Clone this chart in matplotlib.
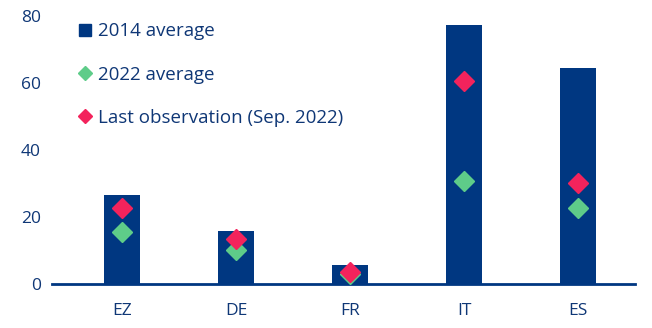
import numpy as np
import matplotlib
matplotlib.use("Agg")
import matplotlib.pyplot as plt
from matplotlib.lines import Line2D

# data
countries = ["EZ", "DE", "FR", "IT", "ES"]
avg_2014 = [26.5, 15.7, 5.8, 77.3, 64.5]
avg_2022 = [15.4, 10.3, 3.0, 30.7, 22.7]
last_obs = [22.8, 13.3, 3.7, 60.6, 30.1]
yticks = [0, 20, 40, 60, 80]

navy = "#003781"
green = "#5ecc89"
red = "#f3235c"
txt = "#0f3776"

plt.rcParams["font.family"] = ["Open Sans", "DejaVu Sans"]

fig = plt.figure(figsize=(6.52, 3.28), dpi=100)
ax = fig.add_axes([0.08, 0.134, 0.894, 0.817])

x = np.arange(len(countries))
ax.bar(x, avg_2014, width=0.32, color=navy, zorder=2)
ax.plot(x, avg_2022, "D", color=green, ms=10, ls="none", zorder=3)
ax.plot(x, last_obs, "D", color=red, ms=10, ls="none", zorder=4)

ax.set_xlim(-0.614, 4.5)
ax.set_ylim(0, 80)
ax.set_yticks(yticks)
ax.set_xticks(x)
ax.set_xticklabels(countries)
ax.tick_params(axis="both", length=0, labelsize=12.5, colors=txt)
ax.tick_params(axis="x", pad=14)
ax.tick_params(axis="y", pad=8)

for s in ["top", "right", "left"]:
    ax.spines[s].set_visible(False)
ax.spines["bottom"].set_color(navy)
ax.spines["bottom"].set_linewidth(2)

handles = [
    Line2D([], [], marker="s", color=navy, ls="none", ms=9),
    Line2D([], [], marker="D", color=green, ls="none", ms=7),
    Line2D([], [], marker="D", color=red, ls="none", ms=7),
]
labels = ["2014 average", "2022 average", "Last observation (Sep. 2022)"]
leg = ax.legend(handles, labels, loc="upper left", bbox_to_anchor=(0.03, 1.005),
                frameon=False, fontsize=13.5, labelspacing=1.35,
                handlelength=0.8, handletextpad=0.3, borderaxespad=0.0)
for t in leg.get_texts():
    t.set_color(txt)

fig.savefig("out.png", dpi=100)
